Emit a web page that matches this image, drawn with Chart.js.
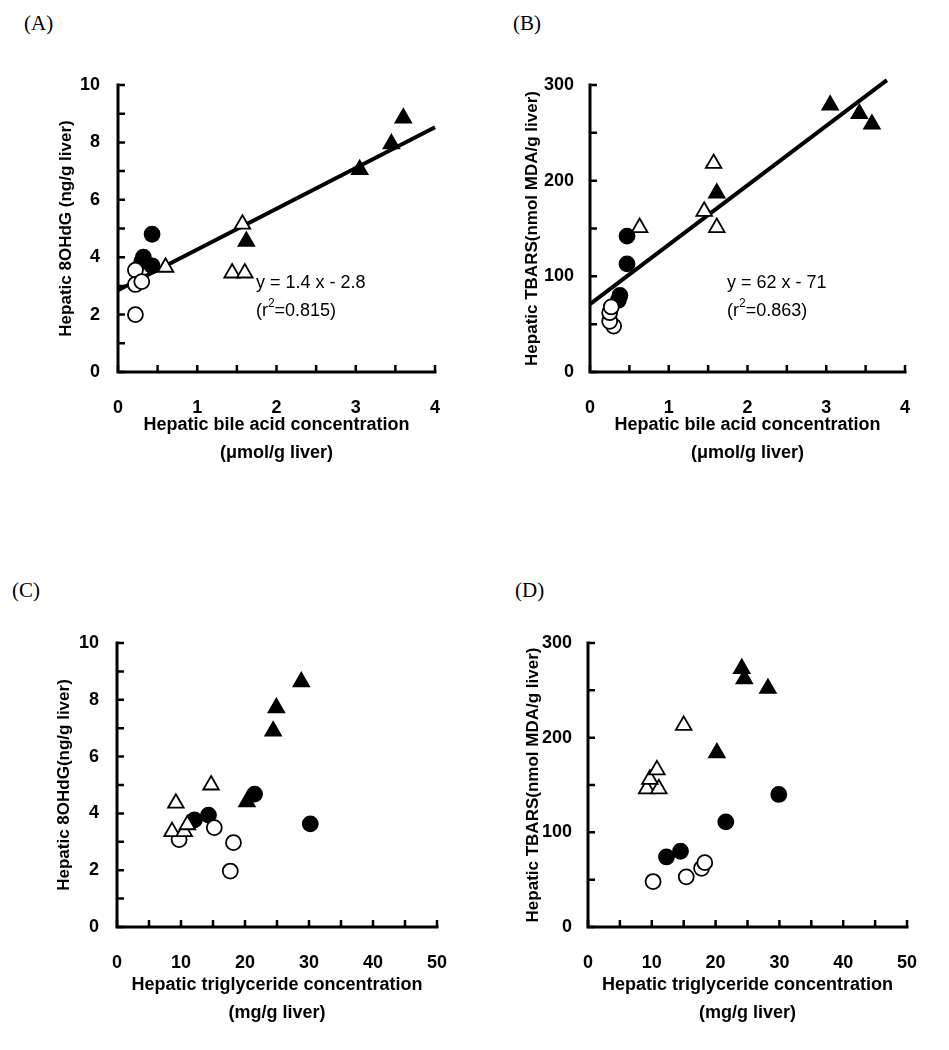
<!DOCTYPE html>
<html><head><meta charset="utf-8">
<script src="https://cdn.jsdelivr.net/npm/chart.js@4/dist/chart.umd.min.js"></script>
<style>
body{margin:0;background:#fff;width:949px;height:1050px;position:relative;overflow:hidden}
canvas{position:absolute}
.pl{position:absolute;font-family:'Liberation Serif','Times New Roman',serif;font-size:21px;color:#000;line-height:24px}
</style></head><body>
<div class="pl" style="left:24px;top:11px">(A)</div>
<div class="pl" style="left:513px;top:11px">(B)</div>
<div class="pl" style="left:12px;top:578px">(C)</div>
<div class="pl" style="left:515px;top:578px">(D)</div>
<canvas id="cA" width="475" height="525" style="left:0;top:0"></canvas>
<canvas id="cB" width="474" height="525" style="left:475px;top:0"></canvas>
<canvas id="cC" width="475" height="525" style="left:0;top:525px"></canvas>
<canvas id="cD" width="474" height="525" style="left:475px;top:525px"></canvas>
<script>
// ---------- Panel A: hepatic bile acid (µmol/g) vs hepatic 8OHdG (ng/g) ----------
const A_openCircle_x   = [0.22, 0.22, 0.30, 0.22];
const A_openCircle_y   = [3.55, 3.05, 3.15, 2.00];
const A_filledCircle_x = [0.32, 0.30, 0.43, 0.43];
const A_filledCircle_y = [4.00, 3.85, 4.80, 3.70];
const A_openTri_x      = [0.60, 1.57, 1.44, 1.60];
const A_openTri_y      = [3.65, 5.15, 3.45, 3.45];
const A_filledTri_x    = [3.60, 3.45, 3.05, 1.62];
const A_filledTri_y    = [8.85, 7.95, 7.05, 4.55];
const A_fit_x = [0, 4];
const A_fit_y = [2.85, 8.53];

// ---------- Panel B: hepatic bile acid vs hepatic TBARS (nmol MDA/g) ----------
const B_openCircle_x   = [0.30, 0.25, 0.25, 0.27];
const B_openCircle_y   = [48, 53, 62, 68];
const B_filledCircle_x = [0.47, 0.47, 0.38, 0.36];
const B_filledCircle_y = [142, 113, 80, 75];
const B_openTri_x      = [0.63, 1.57, 1.45, 1.61];
const B_openTri_y      = [151, 218, 168, 151];
const B_filledTri_x    = [3.05, 3.42, 3.58, 1.61];
const B_filledTri_y    = [279, 270, 259, 187];
const B_fit_x = [0, 3.77];
const B_fit_y = [71, 305];

// ---------- Panel C: hepatic triglyceride (mg/g) vs hepatic 8OHdG ----------
const C_openCircle_x   = [9.7, 15.2, 18.2, 17.7];
const C_openCircle_y   = [3.08, 3.50, 2.97, 1.97];
const C_filledCircle_x = [12.1, 14.3, 21.5, 30.2];
const C_filledCircle_y = [3.77, 3.94, 4.68, 3.63];
const C_openTri_x      = [14.7, 9.2, 8.6, 10.5, 11.0];
const C_openTri_y      = [5.00, 4.36, 3.36, 3.36, 3.60];
const C_filledTri_x    = [28.8, 24.9, 24.4, 20.3];
const C_filledTri_y    = [8.63, 7.72, 6.90, 4.41];

// ---------- Panel D: hepatic triglyceride vs hepatic TBARS ----------
const D_openCircle_x   = [10.2, 15.4, 17.8, 18.3];
const D_openCircle_y   = [48, 53, 62, 68];
const D_filledCircle_x = [12.3, 14.5, 21.6, 29.9];
const D_filledCircle_y = [74, 80, 111, 140];
const D_openTri_x      = [9.2, 11.1, 9.7, 10.8, 15.0];
const D_openTri_y      = [146, 146, 156, 166, 213];
const D_filledTri_x    = [24.1, 24.5, 28.2, 20.2];
const D_filledTri_y    = [273, 262, 252, 184];

// ---------- axis text ----------
const xTitleBA = ['Hepatic bile acid concentration', '(\u03bcmol/g liver)'];
const xTitleTG = ['Hepatic triglyceride concentration', '(mg/g liver)'];
const yTitleA = 'Hepatic 8OHdG (ng/g liver)';
const yTitleB = 'Hepatic TBARS(nmol MDA/g liver)';
const yTitleC = 'Hepatic 8OHdG(ng/g liver)';
const yTitleD = 'Hepatic TBARS(nmol MDA/g liver)';
const eqA = ['y = 1.4 x - 2.8', '0.815'];
const eqB = ['y = 62 x - 71', '0.863'];

const FONT = "'Liberation Sans', Arial, sans-serif";
const zip = (xs, ys) => xs.map((x, i) => ({x, y: ys[i]}));

function series(xs, ys, style, filled) {
  return {
    data: zip(xs, ys),
    pointStyle: style,
    pointRadius: style === 'triangle' ? 9 : 7.5,
    pointBackgroundColor: filled ? '#000' : '#fff',
    pointBorderColor: '#000',
    pointBorderWidth: 1.8,
    showLine: false
  };
}
function fitLine(xs, ys) {
  return {
    data: zip(xs, ys), showLine: true, borderColor: '#000', borderWidth: 4,
    pointRadius: 0, clip: false, order: 10
  };
}

const axesPlugin = {
  id: 'axesDraw',
  beforeDatasetsDraw(chart) {
    const ctx = chart.ctx, a = chart.chartArea, xs = chart.scales.x, ys = chart.scales.y;
    ctx.save();
    ctx.strokeStyle = '#000';
    ctx.lineWidth = 3;
    ctx.lineCap = 'square';
    ctx.beginPath();
    ctx.moveTo(a.left, a.top); ctx.lineTo(a.left, a.bottom); ctx.lineTo(a.right, a.bottom);
    ctx.stroke();
    ctx.lineWidth = 2.5; ctx.lineCap = 'butt';
    ctx.beginPath();
    ys.ticks.forEach(t => { const p = ys.getPixelForValue(t.value); ctx.moveTo(a.left, p); ctx.lineTo(a.left + 7, p); });
    xs.ticks.forEach(t => { const p = xs.getPixelForValue(t.value); ctx.moveTo(p, a.bottom); ctx.lineTo(p, a.bottom - 7); });
    ctx.stroke();
    ctx.restore();
  },
  afterDraw(chart, args, opts) {
    if (!opts || !opts.eq) return;
    const ctx = chart.ctx, xs = chart.scales.x, ys = chart.scales.y;
    ctx.save();
    ctx.fillStyle = '#000';
    ctx.textBaseline = 'middle';
    ctx.textAlign = 'left';
    ctx.font = '18px ' + FONT;
    const x0 = xs.getPixelForValue(opts.at[0]);
    const y1 = ys.getPixelForValue(opts.at[1]);
    const y2 = ys.getPixelForValue(opts.at[2]);
    ctx.fillText(opts.eq[0], x0, y1);
    let x = x0;
    ctx.fillText('(r', x, y2); x += ctx.measureText('(r').width;
    ctx.font = '12px ' + FONT;
    ctx.fillText('2', x, y2 - 7); x += ctx.measureText('2').width;
    ctx.font = '18px ' + FONT;
    ctx.fillText('=' + opts.eq[1] + ')', x, y2);
    ctx.restore();
  }
};

function makeChart(id, c) {
  new Chart(document.getElementById(id), {
    type: 'scatter',
    data: { datasets: c.datasets },
    options: {
      responsive: false, animation: false, events: [],
      layout: { padding: { top: c.top, left: 0, right: c.right, bottom: 0 } },
      plugins: { legend: { display: false }, tooltip: { enabled: false }, axesDraw: c.eq ? { eq: c.eq, at: c.eqAt } : {} },
      scales: {
        x: {
          type: 'linear', min: c.xmin, max: c.xmax,
          afterFit(s) { s.height = c.xh; },
          grid: { display: false, drawTicks: false }, border: { display: false },
          ticks: { stepSize: c.xstep, autoSkip: false, maxRotation: 0, padding: 25, color: '#000',
                   font: { family: FONT, size: 18, weight: 'bold' },
                   callback: v => (Math.abs(v / c.xlab - Math.round(v / c.xlab)) < 1e-6 ? String(Math.round(v * 100) / 100) : '') },
          title: { display: true, text: c.xtitle, color: '#000',
                   font: { family: FONT, size: 18, weight: 'bold', lineHeight: 1.55 },
                   padding: { top: 0, bottom: c.xtpad } }
        },
        y: {
          type: 'linear', min: c.ymin, max: c.ymax,
          afterFit(s) { s.width = c.yw; },
          grid: { display: false, drawTicks: false }, border: { display: false },
          ticks: { stepSize: c.ystep, autoSkip: false, padding: c.ypad, color: '#000',
                   font: { family: FONT, size: 18, weight: 'bold' },
                   callback: v => (Math.abs(v / c.ylab - Math.round(v / c.ylab)) < 1e-6 ? String(v) : '') },
          title: { display: true, text: c.ytitle, color: '#000',
                   font: { family: FONT, size: 17, weight: 'bold', lineHeight: 1.2 },
                   padding: { top: c.ytpad, bottom: 0 } }
        }
      }
    },
    plugins: [axesPlugin]
  });
}

makeChart('cA', {
  datasets: [fitLine(A_fit_x, A_fit_y),
    series(A_openTri_x, A_openTri_y, 'triangle', false),
    series(A_openCircle_x, A_openCircle_y, 'circle', false),
    series(A_filledCircle_x, A_filledCircle_y, 'circle', true),
    series(A_filledTri_x, A_filledTri_y, 'triangle', true)],
  top: 85, right: 40, yw: 118, xh: 153, ypad: 18,
  xmin: 0, xmax: 4, xstep: 0.5, xlab: 1, ymin: 0, ymax: 10, ystep: 1, ylab: 2,
  xtitle: xTitleBA, ytitle: yTitleA, xtpad: 58, ytpad: 56,
  eq: eqA, eqAt: [1.74, 3.1, 2.13]
});
makeChart('cB', {
  datasets: [fitLine(B_fit_x, B_fit_y),
    series(B_openTri_x, B_openTri_y, 'triangle', false),
    series(B_openCircle_x, B_openCircle_y, 'circle', false),
    series(B_filledCircle_x, B_filledCircle_y, 'circle', true),
    series(B_filledTri_x, B_filledTri_y, 'triangle', true)],
  top: 85, right: 44, yw: 115, xh: 153, ypad: 16,
  xmin: 0, xmax: 4, xstep: 0.5, xlab: 1, ymin: 0, ymax: 300, ystep: 50, ylab: 100,
  xtitle: xTitleBA, ytitle: yTitleB, xtpad: 58, ytpad: 47,
  eq: eqB, eqAt: [1.74, 93, 64]
});
makeChart('cC', {
  datasets: [
    series(C_openTri_x, C_openTri_y, 'triangle', false),
    series(C_openCircle_x, C_openCircle_y, 'circle', false),
    series(C_filledCircle_x, C_filledCircle_y, 'circle', true),
    series(C_filledTri_x, C_filledTri_y, 'triangle', true)],
  top: 118, right: 38, yw: 117, xh: 123, ypad: 18,
  xmin: 0, xmax: 50, xstep: 5, xlab: 10, ymin: 0, ymax: 10, ystep: 1, ylab: 2,
  xtitle: xTitleTG, ytitle: yTitleC, xtpad: 23, ytpad: 54
});
makeChart('cD', {
  datasets: [
    series(D_openTri_x, D_openTri_y, 'triangle', false),
    series(D_openCircle_x, D_openCircle_y, 'circle', false),
    series(D_filledCircle_x, D_filledCircle_y, 'circle', true),
    series(D_filledTri_x, D_filledTri_y, 'triangle', true)],
  top: 118, right: 42, yw: 113, xh: 123, ypad: 16,
  xmin: 0, xmax: 50, xstep: 5, xlab: 10, ymin: 0, ymax: 300, ystep: 50, ylab: 100,
  xtitle: xTitleTG, ytitle: yTitleD, xtpad: 23, ytpad: 48
});
</script>
</body></html>
